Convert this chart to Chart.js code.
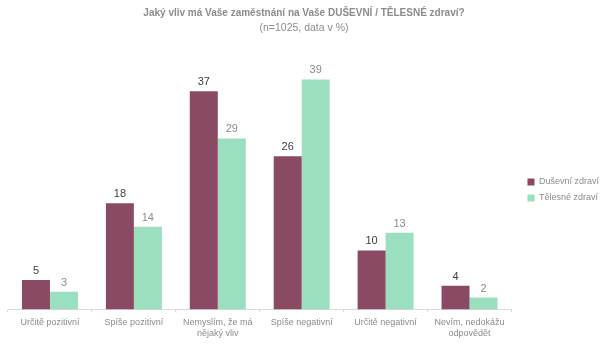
<!DOCTYPE html>
<html>
<head>
<meta charset="utf-8">
<script src="https://cdn.jsdelivr.net/npm/chart.js@4/dist/chart.umd.min.js"></script>
<style>
  html, body { margin: 0; padding: 0; background: #fff; }
  #wrap { width: 600px; height: 344px; }
</style>
</head>
<body>
<div id="wrap"><canvas id="myChart" width="600" height="344"></canvas></div>
<script>
const categories = [
  "Určitě pozitivní",
  "Spíše pozitivní",
  ["Nemyslím, že má", "nějaký vliv"],
  "Spíše negativní",
  "Určitě negativní",
  ["Nevím, nedokážu", "odpovědět"],
];
const dusevni = [5, 18, 37, 26, 10, 4];
const telesne = [3, 14, 29, 39, 13, 2];
const seriesNames = ["Duševní zdraví", "Tělesné zdraví"];

const FONT = "'Liberation Sans', Arial, sans-serif";

// values above bars
const valueLabels = {
  id: "valueLabels",
  afterDatasetsDraw(chart) {
    const ctx = chart.ctx;
    const colors = ["#404040", "#8c8c8c"];
    ctx.save();
    ctx.font = "11px " + FONT;
    ctx.textAlign = "center";
    ctx.textBaseline = "alphabetic";
    chart.data.datasets.forEach(function (ds, di) {
      const meta = chart.getDatasetMeta(di);
      ctx.fillStyle = colors[di];
      meta.data.forEach(function (bar, i) {
        ctx.fillText(ds.data[i], bar.x, bar.y - 6);
      });
    });
    ctx.restore();
  },
};

// push the legend a bit away from the plot
const legendShift = {
  id: "legendShift",
  afterUpdate(chart) {
    const lg = chart.legend;
    if (!lg) return;
    lg.left += 9;
    lg.right += 9;
    (lg.legendHitBoxes || []).forEach(function (b) {
      b.left += 9;
    });
  },
};

const ctx = document.getElementById("myChart").getContext("2d");
new Chart(ctx, {
  type: "bar",
  data: {
    labels: categories,
    datasets: [
      {
        label: seriesNames[0],
        data: dusevni,
        backgroundColor: "#8a4a63",
      },
      {
        label: seriesNames[1],
        data: telesne,
        backgroundColor: "#9adfbe",
      },
    ],
  },
  plugins: [valueLabels, legendShift],
  options: {
    responsive: false,
    animation: false,
    layout: { padding: { left: 8, right: 0, top: 0, bottom: 0 } },
    datasets: {
      bar: { categoryPercentage: 0.667, barPercentage: 1.0 },
    },
    scales: {
      x: {
        grid: {
          display: true,
          drawOnChartArea: false,
          offset: true,
          tickLength: 3,
          color: "#d9d9d9",
        },
        border: { display: true, color: "#d9d9d9" },
        ticks: {
          color: "#8c8c8c",
          font: { family: FONT, size: 9 },
          maxRotation: 0,
          autoSkip: false,
          padding: 5,
        },
      },
      y: {
        display: false,
        min: 0,
        max: 40,
      },
    },
    plugins: {
      legend: {
        position: "right",
        title: {
          display: true,
          text: " ",
          font: { size: 10 },
          padding: { top: 0, bottom: 24 },
        },
        labels: {
          boxWidth: 7,
          boxHeight: 7,
          color: "#8c8c8c",
          font: { family: FONT, size: 9 },
          padding: 7,
        },
      },
      title: {
        display: true,
        text: "Jaký vliv má Vaše zaměstnání na Vaše DUŠEVNÍ / TĚLESNÉ zdraví?",
        color: "#8c8c8c",
        font: { family: FONT, size: 10, weight: "bold" },
        padding: { top: 7, bottom: 2 },
      },
      subtitle: {
        display: true,
        text: "(n=1025, data v %)",
        color: "#8c8c8c",
        font: { family: FONT, size: 10.5 },
        padding: { top: 1, bottom: 39 },
      },
      tooltip: { enabled: false },
    },
  },
});
</script>
</body>
</html>
